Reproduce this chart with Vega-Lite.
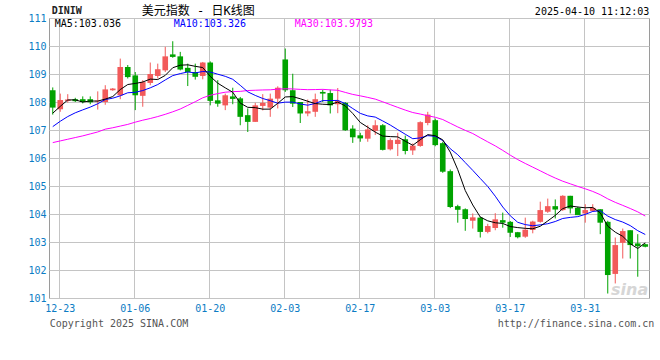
{
  "$schema": "https://vega.github.io/schema/vega-lite/v6.json",
  "width": 600,
  "height": 280,
  "autosize": {"type": "none"},
  "padding": {"left": 49, "top": 18, "right": 11, "bottom": 62},
  "background": "white",
  "config": {
    "view": {"stroke": "#9a9a9a", "strokeWidth": 1},
    "text": {"font": "DejaVu Sans Mono", "fontSize": 10},
    "axis": {
      "title": null,
      "grid": true,
      "gridColor": "#c4c4c4",
      "gridWidth": 1,
      "gridOpacity": 1,
      "ticks": false,
      "domain": false,
      "labelColor": "#0b7cc4",
      "labelFont": "DejaVu Sans Mono",
      "labelFontSize": 10,
      "labelOverlap": false,
      "labelFlush": false
    },
    "axisY": {"labelPadding": 3},
    "axisX": {"labelPadding": 5, "labelAngle": 0, "bandPosition": 0.45}
  },
  "data": {"values": [
    {"date":"12-20","o":108.42,"h":108.52,"l":107.55,"c":107.80,"ma5":107.600,"ma10":107.121,"ma30":106.55},
    {"date":"12-23","o":107.74,"h":108.30,"l":107.65,"c":108.07,"ma5":107.844,"ma10":107.312,"ma30":106.61},
    {"date":"12-24","o":108.04,"h":108.28,"l":107.98,"c":108.09,"ma5":108.072,"ma10":107.480,"ma30":106.67},
    {"date":"12-25","o":108.10,"h":108.15,"l":108.00,"c":108.03,"ma5":108.078,"ma10":107.614,"ma30":106.73},
    {"date":"12-26","o":108.10,"h":108.20,"l":107.95,"c":108.00,"ma5":107.998,"ma10":107.719,"ma30":106.79},
    {"date":"12-27","o":108.10,"h":108.20,"l":107.92,"c":107.99,"ma5":108.036,"ma10":107.818,"ma30":106.86},
    {"date":"12-30","o":108.02,"h":108.38,"l":107.73,"c":108.05,"ma5":108.032,"ma10":107.938,"ma30":106.93},
    {"date":"12-31","o":108.00,"h":108.60,"l":107.90,"c":108.45,"ma5":108.104,"ma10":108.088,"ma30":107.03},
    {"date":"01-01","o":108.42,"h":108.50,"l":108.40,"c":108.48,"ma5":108.194,"ma10":108.136,"ma30":107.08},
    {"date":"01-02","o":108.24,"h":109.55,"l":108.10,"c":109.25,"ma5":108.444,"ma10":108.221,"ma30":107.14},
    {"date":"01-03","o":109.25,"h":109.32,"l":108.84,"c":108.89,"ma5":108.624,"ma10":108.330,"ma30":107.20},
    {"date":"01-06","o":108.95,"h":109.07,"l":107.71,"c":108.24,"ma5":108.662,"ma10":108.347,"ma30":107.28},
    {"date":"01-07","o":108.22,"h":108.78,"l":107.83,"c":108.71,"ma5":108.714,"ma10":108.409,"ma30":107.35},
    {"date":"01-08","o":108.68,"h":109.41,"l":108.60,"c":109.00,"ma5":108.818,"ma10":108.506,"ma30":107.41},
    {"date":"01-09","o":108.93,"h":109.37,"l":108.84,"c":109.17,"ma5":108.802,"ma10":108.623,"ma30":107.48},
    {"date":"01-10","o":109.13,"h":109.97,"l":109.07,"c":109.63,"ma5":108.950,"ma10":108.787,"ma30":107.56},
    {"date":"01-13","o":109.70,"h":110.17,"l":109.58,"c":109.61,"ma5":109.224,"ma10":108.943,"ma30":107.65},
    {"date":"01-14","o":109.63,"h":109.79,"l":109.13,"c":109.16,"ma5":109.314,"ma10":109.014,"ma30":107.75},
    {"date":"01-15","o":109.22,"h":109.37,"l":108.57,"c":109.07,"ma5":109.328,"ma10":109.073,"ma30":107.88},
    {"date":"01-16","o":109.07,"h":109.37,"l":108.80,"c":108.90,"ma5":109.274,"ma10":109.038,"ma30":108.01},
    {"date":"01-17","o":108.93,"h":109.43,"l":108.81,"c":109.41,"ma5":109.230,"ma10":109.090,"ma30":108.15},
    {"date":"01-20","o":109.41,"h":109.45,"l":107.88,"c":108.04,"ma5":108.916,"ma10":109.070,"ma30":108.24},
    {"date":"01-21","o":108.06,"h":108.78,"l":107.83,"c":107.94,"ma5":108.672,"ma10":108.993,"ma30":108.30},
    {"date":"01-22","o":107.88,"h":108.30,"l":107.71,"c":108.24,"ma5":108.506,"ma10":108.917,"ma30":108.35},
    {"date":"01-23","o":108.20,"h":108.51,"l":107.92,"c":108.11,"ma5":108.348,"ma10":108.811,"ma30":108.37},
    {"date":"01-24","o":108.13,"h":108.18,"l":107.17,"c":107.47,"ma5":107.960,"ma10":108.595,"ma30":108.38},
    {"date":"01-27","o":107.53,"h":107.77,"l":106.93,"c":107.29,"ma5":107.810,"ma10":108.363,"ma30":108.41},
    {"date":"01-28","o":107.29,"h":107.97,"l":107.29,"c":107.88,"ma5":107.798,"ma10":108.235,"ma30":108.42},
    {"date":"01-29","o":107.86,"h":108.28,"l":107.70,"c":107.97,"ma5":107.744,"ma10":108.125,"ma30":108.43},
    {"date":"01-30","o":107.80,"h":108.30,"l":107.47,"c":108.12,"ma5":107.746,"ma10":108.047,"ma30":108.435},
    {"date":"01-31","o":108.12,"h":108.56,"l":107.77,"c":108.51,"ma5":107.954,"ma10":107.957,"ma30":108.459},
    {"date":"02-03","o":109.52,"h":109.91,"l":108.36,"c":108.42,"ma5":108.180,"ma10":107.995,"ma30":108.471},
    {"date":"02-04","o":108.42,"h":109.01,"l":107.82,"c":107.94,"ma5":108.192,"ma10":107.995,"ma30":108.466},
    {"date":"02-05","o":108.00,"h":108.00,"l":107.25,"c":107.59,"ma5":108.116,"ma10":107.930,"ma30":108.451},
    {"date":"02-06","o":107.59,"h":108.09,"l":107.49,"c":107.67,"ma5":108.026,"ma10":107.886,"ma30":108.440},
    {"date":"02-07","o":107.65,"h":108.30,"l":107.47,"c":108.10,"ma5":107.944,"ma10":107.949,"ma30":108.444},
    {"date":"02-10","o":108.36,"h":108.44,"l":108.00,"c":108.30,"ma5":107.920,"ma10":108.050,"ma30":108.452},
    {"date":"02-11","o":108.32,"h":108.44,"l":107.59,"c":107.88,"ma5":107.908,"ma10":108.050,"ma30":108.433},
    {"date":"02-12","o":107.92,"h":108.50,"l":107.60,"c":108.04,"ma5":107.998,"ma10":108.057,"ma30":108.418},
    {"date":"02-13","o":107.97,"h":108.00,"l":106.97,"c":106.99,"ma5":107.862,"ma10":107.944,"ma30":108.343},
    {"date":"02-14","o":107.05,"h":107.17,"l":106.54,"c":106.74,"ma5":107.590,"ma10":107.767,"ma30":108.271},
    {"date":"02-17","o":106.81,"h":106.90,"l":106.58,"c":106.70,"ma5":107.270,"ma10":107.595,"ma30":108.220},
    {"date":"02-18","o":106.69,"h":107.17,"l":106.58,"c":107.02,"ma5":107.098,"ma10":107.503,"ma30":108.164},
    {"date":"02-19","o":106.97,"h":107.35,"l":106.82,"c":107.17,"ma5":106.924,"ma10":107.461,"ma30":108.103},
    {"date":"02-20","o":107.17,"h":107.21,"l":106.27,"c":106.29,"ma5":106.784,"ma10":107.323,"ma30":108.007},
    {"date":"02-21","o":106.31,"h":106.70,"l":106.27,"c":106.64,"ma5":106.764,"ma10":107.177,"ma30":107.907},
    {"date":"02-24","o":106.50,"h":106.90,"l":106.07,"c":106.65,"ma5":106.754,"ma10":107.012,"ma30":107.808},
    {"date":"02-25","o":106.67,"h":106.80,"l":106.13,"c":106.25,"ma5":106.600,"ma10":106.849,"ma30":107.711},
    {"date":"02-26","o":106.27,"h":106.52,"l":106.11,"c":106.44,"ma5":106.454,"ma10":106.689,"ma30":107.624},
    {"date":"02-27","o":106.43,"h":107.31,"l":106.40,"c":107.28,"ma5":106.652,"ma10":106.718,"ma30":107.570},
    {"date":"02-28","o":107.25,"h":107.65,"l":107.17,"c":107.55,"ma5":106.834,"ma10":106.799,"ma30":107.508},
    {"date":"03-03","o":107.35,"h":107.41,"l":106.42,"c":106.46,"ma5":106.796,"ma10":106.775,"ma30":107.455},
    {"date":"03-04","o":106.53,"h":106.58,"l":105.47,"c":105.51,"ma5":106.648,"ma10":106.624,"ma30":107.374},
    {"date":"03-05","o":105.53,"h":105.59,"l":104.21,"c":104.25,"ma5":106.210,"ma10":106.332,"ma30":107.241},
    {"date":"03-06","o":104.28,"h":104.33,"l":103.69,"c":104.15,"ma5":105.584,"ma10":106.118,"ma30":107.109},
    {"date":"03-07","o":104.17,"h":104.20,"l":103.40,"c":103.82,"ma5":104.838,"ma10":105.836,"ma30":106.987},
    {"date":"03-10","o":103.76,"h":104.02,"l":103.48,"c":103.88,"ma5":104.322,"ma10":105.559,"ma30":106.874},
    {"date":"03-11","o":103.87,"h":103.90,"l":103.16,"c":103.36,"ma5":103.892,"ma10":105.270,"ma30":106.723},
    {"date":"03-12","o":103.36,"h":103.65,"l":103.31,"c":103.57,"ma5":103.756,"ma10":104.983,"ma30":106.576},
    {"date":"03-13","o":103.50,"h":104.03,"l":103.42,"c":103.81,"ma5":103.688,"ma10":104.636,"ma30":106.433},
    {"date":"03-14","o":103.78,"h":104.05,"l":103.51,"c":103.69,"ma5":103.662,"ma10":104.250,"ma30":106.272},
    {"date":"03-17","o":103.72,"h":103.75,"l":103.18,"c":103.33,"ma5":103.552,"ma10":103.937,"ma30":106.102},
    {"date":"03-18","o":103.35,"h":103.36,"l":103.13,"c":103.17,"ma5":103.514,"ma10":103.703,"ma30":105.943},
    {"date":"03-19","o":103.19,"h":103.87,"l":103.15,"c":103.44,"ma5":103.488,"ma10":103.622,"ma30":105.805},
    {"date":"03-20","o":103.43,"h":103.76,"l":103.31,"c":103.73,"ma5":103.472,"ma10":103.580,"ma30":105.674},
    {"date":"03-21","o":103.72,"h":104.44,"l":103.69,"c":104.14,"ma5":103.562,"ma10":103.612,"ma30":105.542},
    {"date":"03-24","o":104.08,"h":104.55,"l":104.04,"c":104.28,"ma5":103.752,"ma10":103.652,"ma30":105.408},
    {"date":"03-25","o":104.28,"h":104.52,"l":103.84,"c":104.16,"ma5":103.950,"ma10":103.732,"ma30":105.284},
    {"date":"03-26","o":104.14,"h":104.67,"l":104.11,"c":104.65,"ma5":104.192,"ma10":103.840,"ma30":105.171},
    {"date":"03-27","o":104.65,"h":104.65,"l":104.02,"c":104.20,"ma5":104.286,"ma10":103.879,"ma30":105.078},
    {"date":"03-28","o":104.22,"h":104.26,"l":103.96,"c":103.96,"ma5":104.250,"ma10":103.906,"ma30":104.985},
    {"date":"03-31","o":104.02,"h":104.35,"l":103.69,"c":104.14,"ma5":104.222,"ma10":103.987,"ma30":104.900},
    {"date":"04-01","o":104.11,"h":104.35,"l":104.08,"c":104.22,"ma5":104.234,"ma10":104.092,"ma30":104.806},
    {"date":"04-02","o":104.17,"h":104.17,"l":103.28,"c":103.69,"ma5":104.042,"ma10":104.117,"ma30":104.690},
    {"date":"04-03","o":103.72,"h":103.76,"l":101.16,"c":101.82,"ma5":103.566,"ma10":103.926,"ma30":104.541},
    {"date":"04-04","o":101.86,"h":103.16,"l":101.52,"c":102.89,"ma5":103.352,"ma10":103.801,"ma30":104.416},
    {"date":"04-07","o":102.97,"h":103.48,"l":102.41,"c":103.39,"ma5":103.202,"ma10":103.712,"ma30":104.308},
    {"date":"04-08","o":103.42,"h":103.42,"l":102.41,"c":102.89,"ma5":102.936,"ma10":103.585,"ma30":104.196},
    {"date":"04-09","o":102.95,"h":103.28,"l":101.76,"c":102.85,"ma5":102.768,"ma10":103.405,"ma30":104.076},
    {"date":"04-10","o":102.92,"h":102.94,"l":102.81,"c":102.83,"ma5":102.970,"ma10":103.268,"ma30":103.928}
  ]},
  "encoding": {
    "x": {
      "field": "date",
      "type": "ordinal",
      "scale": {
        "domain": ["12-20","12-23","12-24","12-25","12-26","12-27","12-30","12-31","01-01","01-02","01-03","01-06","01-07","01-08","01-09","01-10","01-13","01-14","01-15","01-16","01-17","01-20","01-21","01-22","01-23","01-24","01-27","01-28","01-29","01-30","01-31","02-03","02-04","02-05","02-06","02-07","02-10","02-11","02-12","02-13","02-14","02-17","02-18","02-19","02-20","02-21","02-24","02-25","02-26","02-27","02-28","03-03","03-04","03-05","03-06","03-07","03-10","03-11","03-12","03-13","03-14","03-17","03-18","03-19","03-20","03-21","03-24","03-25","03-26","03-27","03-28","03-31","04-01","04-02","04-03","04-04","04-07","04-08","04-09","04-10"],
        "paddingInner": 0,
        "paddingOuter": 0
      },
      "axis": {
        "values": ["12-23","01-06","01-20","02-03","02-17","03-03","03-17","03-31"],
        "grid": true
      }
    }
  },
  "layer": [
    {
      "data": {"values": [{}]},
      "mark": {"type": "text", "text": "sina", "font": "DejaVu Sans", "fontSize": 16, "fontWeight": "bold", "fontStyle": "italic", "color": "#d6d6d6", "align": "right", "baseline": "alphabetic", "dx": 3},
      "encoding": {
        "x": {"datum": "04-10", "type": "ordinal"},
        "y": {"datum": 101.1, "type": "quantitative"}
      }
    },
    {
      "mark": {"type": "rule", "strokeWidth": 1},
      "encoding": {
        "y": {
          "field": "l",
          "type": "quantitative",
          "scale": {"domain": [101, 111], "nice": false, "zero": false},
          "axis": {"values": [101, 102, 103, 104, 105, 106, 107, 108, 109, 110, 111], "tickCount": 11, "grid": true, "labelOverlap": false}
        },
        "y2": {"field": "h"},
        "color": {"condition": {"test": "datum.c >= datum.o", "value": "#f25a5a"}, "value": "#00a300"}
      }
    },
    {
      "mark": {"type": "bar", "width": {"band": 0.75}},
      "encoding": {
        "y": {"field": "o", "type": "quantitative"},
        "y2": {"field": "c"},
        "color": {"condition": {"test": "datum.c >= datum.o", "value": "#f25a5a"}, "value": "#00a300"}
      }
    },
    {
      "mark": {"type": "line", "strokeWidth": 1, "color": "#ff00ff"},
      "encoding": {"y": {"field": "ma30", "type": "quantitative"}}
    },
    {
      "mark": {"type": "line", "strokeWidth": 1, "color": "#0000ff"},
      "encoding": {"y": {"field": "ma10", "type": "quantitative"}}
    },
    {
      "mark": {"type": "line", "strokeWidth": 1, "color": "#000000"},
      "encoding": {"y": {"field": "ma5", "type": "quantitative"}}
    },
    {
      "data": {"values": [{}]},
      "mark": {"type": "text", "text": "MA5:103.036", "color": "#000000", "align": "left", "baseline": "middle", "dx": 2},
      "encoding": {"x": {"datum": "12-20", "type": "ordinal"}, "y": {"datum": 110.79, "type": "quantitative"}}
    },
    {
      "data": {"values": [{}]},
      "mark": {"type": "text", "text": "MA10:103.326", "color": "#0000ff", "align": "left", "baseline": "middle", "dx": 1},
      "encoding": {"x": {"datum": "01-13", "type": "ordinal"}, "y": {"datum": 110.79, "type": "quantitative"}}
    },
    {
      "data": {"values": [{}]},
      "mark": {"type": "text", "text": "MA30:103.9793", "color": "#ff00ff", "align": "left", "baseline": "middle", "dx": 2},
      "encoding": {"x": {"datum": "02-04", "type": "ordinal"}, "y": {"datum": 110.79, "type": "quantitative"}}
    },
    {
      "data": {"values": [{}]},
      "mark": {"type": "text", "text": "DINIW", "color": "#222222", "fontWeight": "bold", "align": "left", "baseline": "middle", "dx": -1},
      "encoding": {"x": {"datum": "12-20", "type": "ordinal"}, "y": {"datum": 111.24, "type": "quantitative"}}
    },
    {
      "data": {"values": [{}]},
      "mark": {"type": "text", "text": "美元指数 - 日K线图", "font": "DejaVu Sans Mono, Noto Sans CJK SC", "fontSize": 12, "color": "#000000", "align": "left", "baseline": "middle", "dx": -1},
      "encoding": {"x": {"datum": "01-07", "type": "ordinal"}, "y": {"datum": 111.25, "type": "quantitative"}}
    },
    {
      "data": {"values": [{}]},
      "mark": {"type": "text", "text": "2025-04-10 11:12:03", "color": "#000000", "align": "right", "baseline": "middle", "dx": 4},
      "encoding": {"x": {"datum": "04-10", "type": "ordinal"}, "y": {"datum": 111.23, "type": "quantitative"}}
    },
    {
      "data": {"values": [{}]},
      "mark": {"type": "text", "text": "Copyright 2025 SINA.COM", "color": "#555555", "align": "left", "baseline": "middle", "dx": -3},
      "encoding": {"x": {"datum": "12-20", "type": "ordinal"}, "y": {"datum": 100.08, "type": "quantitative"}}
    },
    {
      "data": {"values": [{}]},
      "mark": {"type": "text", "text": "http://finance.sina.com.cn", "color": "#555555", "align": "right", "baseline": "middle", "dx": 9},
      "encoding": {"x": {"datum": "04-10", "type": "ordinal"}, "y": {"datum": 100.08, "type": "quantitative"}}
    }
  ]
}
